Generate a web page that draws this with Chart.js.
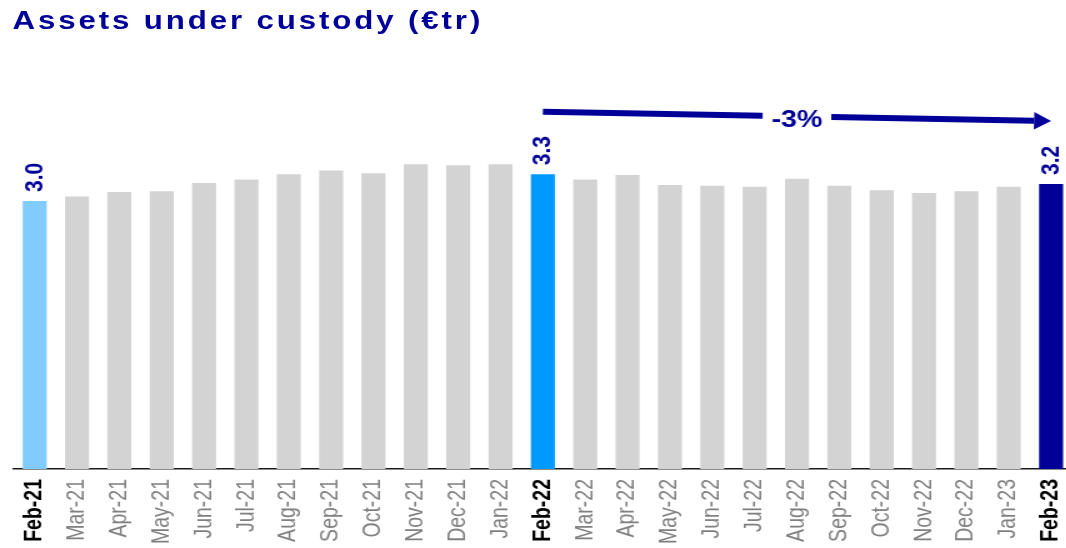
<!DOCTYPE html>
<html><head><meta charset="utf-8">
<script src="https://cdn.jsdelivr.net/npm/chart.js@4"></script>
<style>
html,body{margin:0;padding:0;width:1066px;height:548px;overflow:hidden;background:#fff;}
#wrap{position:absolute;left:0;top:0;width:860px;height:548px;transform:scaleX(1.25);transform-origin:0 0;}
#title{position:absolute;left:10px;top:8px;font-family:"Liberation Sans",Arial,sans-serif;font-weight:bold;font-size:25px;line-height:25px;letter-spacing:2.3px;color:#000099;white-space:nowrap;z-index:2;}
canvas{position:absolute;left:0;top:0;}
</style></head>
<body>
<div id="wrap"><div id="title">Assets under custody (€tr)</div><canvas id="c" width="860" height="548"></canvas></div>
<script>
// ---- data ----
const categories = ['Feb-21','Mar-21','Apr-21','May-21','Jun-21','Jul-21','Aug-21','Sep-21','Oct-21','Nov-21','Dec-21','Jan-22',
  'Feb-22','Mar-22','Apr-22','May-22','Jun-22','Jul-22','Aug-22','Sep-22','Oct-22','Nov-22','Dec-22','Jan-23','Feb-23'];
const values = [3.00,3.05,3.10,3.11,3.20,3.24,3.30,3.34,3.31,3.41,3.40,3.41,
  3.30,3.24,3.29,3.18,3.17,3.16,3.25,3.17,3.12,3.09,3.11,3.16,3.19];
const highlights = ['Feb-21','Feb-22','Feb-23'];
const highlightLabels = ['3.0','3.3','3.2'];
const changeFrom = 'Feb-22';
const changeTo = 'Feb-23';
const changeLabel = '-3%';

// ---- styles ----
const FONT = '"Liberation Sans", Arial, sans-serif';
const NAVY = '#000099';
const HIGHLIGHT_COLORS = {'Feb-21':'#80CCFF','Feb-22':'#0099FF','Feb-23':'#000099'};
const GREY = '#D3D3D3';

const overlay = {
  id:'overlay',
  afterDatasetsDraw(chart){
    const ctx = chart.ctx;
    const meta = chart.getDatasetMeta(0);
    // value labels
    highlights.forEach((cat,k)=>{
      const bar = meta.data[categories.indexOf(cat)];
      ctx.save();
      ctx.translate(bar.x, bar.y - 9);
      ctx.rotate(-Math.PI/2);
      ctx.font = 'bold 21px ' + FONT;
      ctx.fillStyle = NAVY;
      ctx.textAlign = 'left';
      ctx.textBaseline = 'middle';
      ctx.fillText(highlightLabels[k], 0, 0);
      ctx.restore();
    });
    // change arrow
    const a = meta.data[categories.indexOf(changeFrom)];
    const b = meta.data[categories.indexOf(changeTo)];
    const x1 = a.x, y1 = a.y - 62.5, x2 = b.x, y2 = b.y - 63;
    const mx = (x1+x2)/2, my = (y1+y2)/2;
    ctx.save();
    ctx.font = 'bold 23px ' + FONT;
    const tw = ctx.measureText(changeLabel).width;
    const gap = tw/2 + 7;
    const headLen = 13.6, headHalf = 8.7;
    const ang = Math.atan2(y2-y1, x2-x1);
    const ux = Math.cos(ang), uy = Math.sin(ang);
    const tL = (mx - gap - x1) / (x2 - x1);
    const tR = (mx + gap - x1) / (x2 - x1);
    ctx.strokeStyle = NAVY; ctx.fillStyle = NAVY; ctx.lineWidth = 6; ctx.lineCap = 'butt';
    ctx.beginPath();
    ctx.moveTo(x1, y1);
    ctx.lineTo(x1 + (x2-x1)*tL, y1 + (y2-y1)*tL);
    ctx.moveTo(x1 + (x2-x1)*tR, y1 + (y2-y1)*tR);
    ctx.lineTo(x2 - ux*headLen, y2 - uy*headLen);
    ctx.stroke();
    ctx.beginPath();
    ctx.moveTo(x2, y2);
    ctx.lineTo(x2 - ux*headLen - uy*headHalf, y2 - uy*headLen + ux*headHalf);
    ctx.lineTo(x2 - ux*headLen + uy*headHalf, y2 - uy*headLen - ux*headHalf);
    ctx.closePath();
    ctx.fill();
    ctx.textAlign = 'center';
    ctx.textBaseline = 'alphabetic';
    ctx.fillText(changeLabel, mx, my + 11);
    ctx.restore();
  }
};

new Chart(document.getElementById('c'), {
  type:'bar',
  data:{
    labels: categories,
    datasets:[{
      data: values,
      backgroundColor: (c)=> HIGHLIGHT_COLORS[categories[c.dataIndex]] || GREY,
      borderWidth: 0,
      categoryPercentage: 1,
      barPercentage: 0.567
    }]
  },
  options:{
    responsive:false,
    animation:false,
    devicePixelRatio:1,
    layout:{padding:{left:10.8, right:2.2, top:22.3, bottom:0}},
    plugins:{legend:{display:false}, tooltip:{enabled:false}, title:{display:false}},
    scales:{
      y:{display:false, min:0, max:5},
      x:{
        grid:{display:false, drawTicks:false},
        border:{display:true, color:'#1a1a1a', width:1.5},
        afterFit(scale){ scale.height = 79; scale.paddingLeft = 0; scale.paddingRight = 0; },
        ticks:{
          autoSkip:false, minRotation:90, maxRotation:90, padding:10,
          color:(c)=> highlights.includes(categories[c.index]) ? '#000000' : '#808080',
          font:(c)=> ({family:FONT, size:19.5, weight: highlights.includes(categories[c.index]) ? 'bold' : 'normal'})
        }
      }
    }
  },
  plugins:[overlay]
});
</script>
</body></html>
